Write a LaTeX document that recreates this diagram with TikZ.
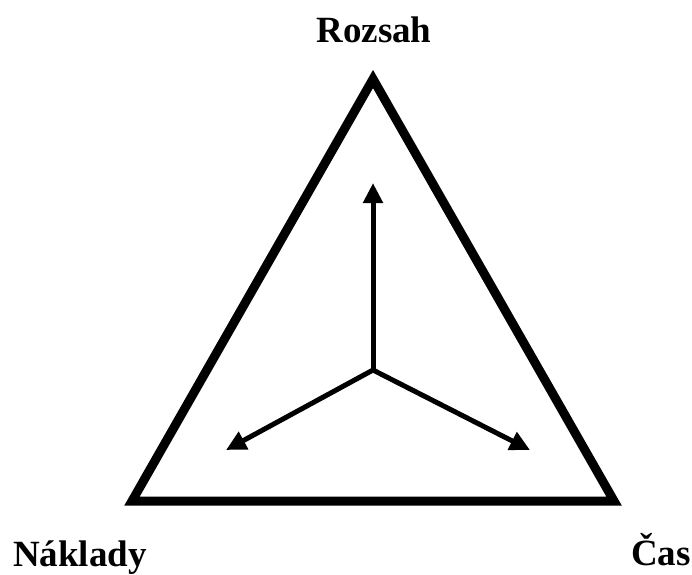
\documentclass[tikz,border=0pt]{standalone}
\usepackage{fontspec}
\setmainfont{Liberation Serif}
\usetikzlibrary{arrows.meta,positioning,calc}

\begin{document}
\begin{tikzpicture}[x=1pt, y=-1pt,
    edge/.style={line width=9pt, line join=miter},
    pull/.style={line width=5pt, -{Triangle[length=20pt,width=19pt]}},
    lbl/.style={font=\fontsize{37}{40}\selectfont\bfseries, anchor=base, inner sep=0pt}]
    \useasboundingbox (0,0) rectangle (692,574);
    \coordinate (top) at (373,79);
    \coordinate (left) at (132,501);
    \coordinate (right) at (614,501);
    \coordinate (mid) at (373,370);
    \node[lbl] (rozsah) at (374,42) {Rozsah};
    \node[lbl] (naklady) at (80,566) {Náklady};
    \node[lbl] (cas) at (661,565) {Čas};
    \draw[edge] (top)--(left)--(right)--cycle;
    \draw[pull] (mid)--(373,183);
    \draw[pull] (mid)--(226,450);
    \draw[pull] (mid)--(530,450);
\end{tikzpicture}
\end{document}
